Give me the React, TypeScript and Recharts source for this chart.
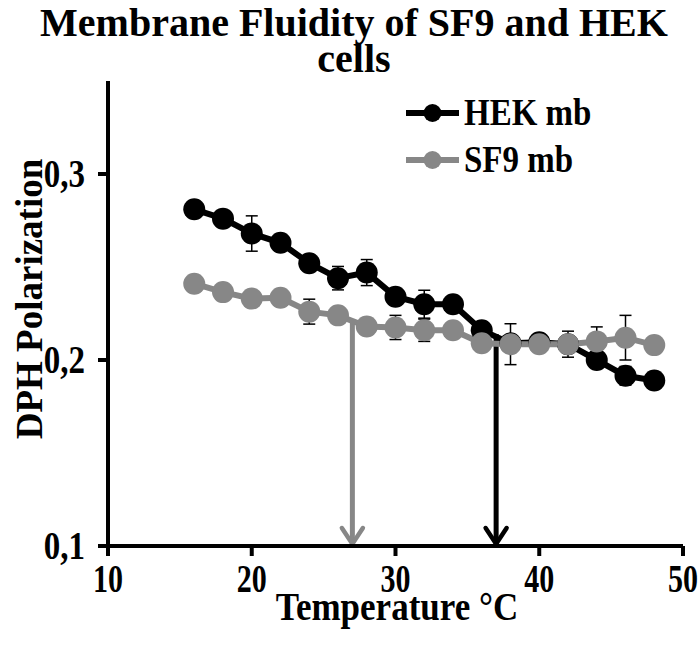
import React from 'react';
import { LineChart, Line, XAxis, YAxis, ErrorBar, ReferenceLine } from 'recharts';

const temps = [16, 18, 20, 22, 24, 26, 28, 30, 32, 34, 36, 38, 40, 42, 44, 46, 48];
const hekValues = [0.281, 0.276, 0.268, 0.263, 0.252, 0.244, 0.247, 0.234, 0.23, 0.23, 0.216, 0.209, 0.2095, 0.2085, 0.2, 0.1915, 0.189];
const hekErrors = [0.002, 0.002, 0.0095, 0.002, 0.002, 0.0063, 0.007, 0.002, 0.0075, 0.002, 0.002, 0.002, 0.002, 0.002, 0.002, 0.005, 0.002];
const sf9Values = [0.241, 0.2365, 0.233, 0.2335, 0.226, 0.224, 0.218, 0.2175, 0.216, 0.216, 0.209, 0.2085, 0.2085, 0.2085, 0.21, 0.212, 0.208];
const sf9Errors = [0.002, 0.002, 0.002, 0.002, 0.0067, 0.002, 0.002, 0.0065, 0.006, 0.002, 0.002, 0.011, 0.002, 0.007, 0.0078, 0.012, 0.004];
const xTicks = [10, 20, 30, 40, 50];
const yTicks = [0.1, 0.2, 0.3];
const seriesNames = ['HEK mb', 'SF9 mb'];
const transitions = [
  { x: 27, top: 0.221, color: '#878787' },
  { x: 37, top: 0.214, color: '#000000' },
];

const data = temps.map((t, i) => ({
  t,
  hek: hekValues[i],
  hekErr: hekErrors[i],
  sf9: sf9Values[i],
  sf9Err: sf9Errors[i],
}));

const FONT = '"Liberation Serif", "Times New Roman", serif';
const GRAY = '#878787';

const makeArrow = (color: string) => (props: any) => {
  const { x1, y1, x2, y2 } = props;
  const top = Math.min(y1, y2);
  const bottom = Math.max(y1, y2);
  const x = x1;
  return (
    <g>
      <line x1={x} y1={top} x2={x} y2={bottom - 2} stroke={color} strokeWidth={5} />
      <polyline
        points={`${x - 10.5},${bottom - 18} ${x},${bottom - 2} ${x + 10.5},${bottom - 18}`}
        fill="none"
        stroke={color}
        strokeWidth={4.5}
        strokeLinecap="round"
        strokeLinejoin="miter"
      />
    </g>
  );
};

const XTick = (props: any) => {
  const { x, y, payload } = props;
  const fs = 30;
  const sy = 1.3;
  const base = y + 0.676 * fs * sy;
  return (
    <text
      transform={`translate(${x},${base}) scale(1,${sy})`}
      textAnchor="middle"
      fontFamily={FONT}
      fontWeight="bold"
      fontSize={fs}
      fill="#000"
    >
      {String(payload.value)}
    </text>
  );
};

const YTick = (props: any) => {
  const { x, y, payload } = props;
  const fs = 33;
  const sy = 1.2;
  const base = y + (0.676 * fs * sy) / 2;
  return (
    <text
      transform={`translate(${x},${base}) scale(1,${sy})`}
      textAnchor="end"
      fontFamily={FONT}
      fontWeight="bold"
      fontSize={fs}
      fill="#000"
    >
      {Number(payload.value).toFixed(1).replace('.', ',')}
    </text>
  );
};

export default function App() {
  return (
    <div style={{ position: 'absolute', left: 0, top: 0, width: 700, height: 645, background: '#fff' }}>
      <LineChart
        width={700}
        height={645}
        data={data}
        margin={{ top: 81, right: 17, bottom: 69, left: 48 }}
      >
        <XAxis
          dataKey="t"
          type="number"
          domain={[10, 50]}
          ticks={xTicks}
          interval={0}
          height={30}
          axisLine={{ stroke: '#000', strokeWidth: 4 }}
          tickLine={{ stroke: '#000', strokeWidth: 4 }}
          tickSize={10}
          tickMargin={10}
          tick={<XTick />}
        />
        <YAxis
          type="number"
          domain={[0.1, 0.35]}
          ticks={yTicks}
          interval={0}
          width={60}
          allowDataOverflow
          axisLine={{ stroke: '#000', strokeWidth: 4 }}
          tickLine={{ stroke: '#000', strokeWidth: 4 }}
          tickSize={10}
          tickMargin={13}
          tick={<YTick />}
        />
        {transitions.map((tr) => (
          <ReferenceLine
            key={tr.x}
            segment={[{ x: tr.x, y: tr.top }, { x: tr.x, y: 0.1 }]}
            stroke={tr.color}
            ifOverflow="visible"
            shape={makeArrow(tr.color)}
          />
        ))}
        <Line
          dataKey="hek"
          name={seriesNames[0]}
          type="linear"
          stroke="#000"
          strokeWidth={6}
          dot={{ r: 11, fill: '#000', stroke: '#000', strokeWidth: 0 }}
          activeDot={false}
          isAnimationActive={false}
        >
          <ErrorBar dataKey="hekErr" direction="y" width={6} stroke="#000" strokeWidth={1.5} />
        </Line>
        <Line
          dataKey="sf9"
          name={seriesNames[1]}
          type="linear"
          stroke={GRAY}
          strokeWidth={6}
          dot={{ r: 11, fill: GRAY, stroke: GRAY, strokeWidth: 0 }}
          activeDot={false}
          isAnimationActive={false}
        >
          <ErrorBar dataKey="sf9Err" direction="y" width={6} stroke="#000" strokeWidth={1.5} />
        </Line>
      </LineChart>
      <svg
        width={700}
        height={645}
        style={{ position: 'absolute', left: 0, top: 0, pointerEvents: 'none' }}
      >
        <g fontFamily={FONT} fontWeight="bold" fill="#000">
          <text fontSize={40} textAnchor="middle">
            <tspan x={354} y={36}>Membrane Fluidity of SF9 and HEK</tspan>
            <tspan x={354} y={72}>cells</tspan>
          </text>
          <text transform="translate(397,620) scale(1,1.15)" fontSize={35} textAnchor="middle">Temperature °C</text>
          <text transform="translate(42,299) rotate(-90)" fontSize={37} textAnchor="middle">DPH Polarization</text>
          <line x1={406} y1={113} x2={459} y2={113} stroke="#000" strokeWidth={6} />
          <circle cx={432.5} cy={113} r={9} fill="#000" />
          <text transform="translate(464,125) scale(1,1.15)" fontSize={33}>{seriesNames[0]}</text>
          <line x1={406} y1={160} x2={459} y2={160} stroke={GRAY} strokeWidth={6} />
          <circle cx={432.5} cy={160} r={9} fill={GRAY} />
          <text transform="translate(464,172) scale(1,1.15)" fontSize={33}>{seriesNames[1]}</text>
        </g>
      </svg>
    </div>
  );
}
